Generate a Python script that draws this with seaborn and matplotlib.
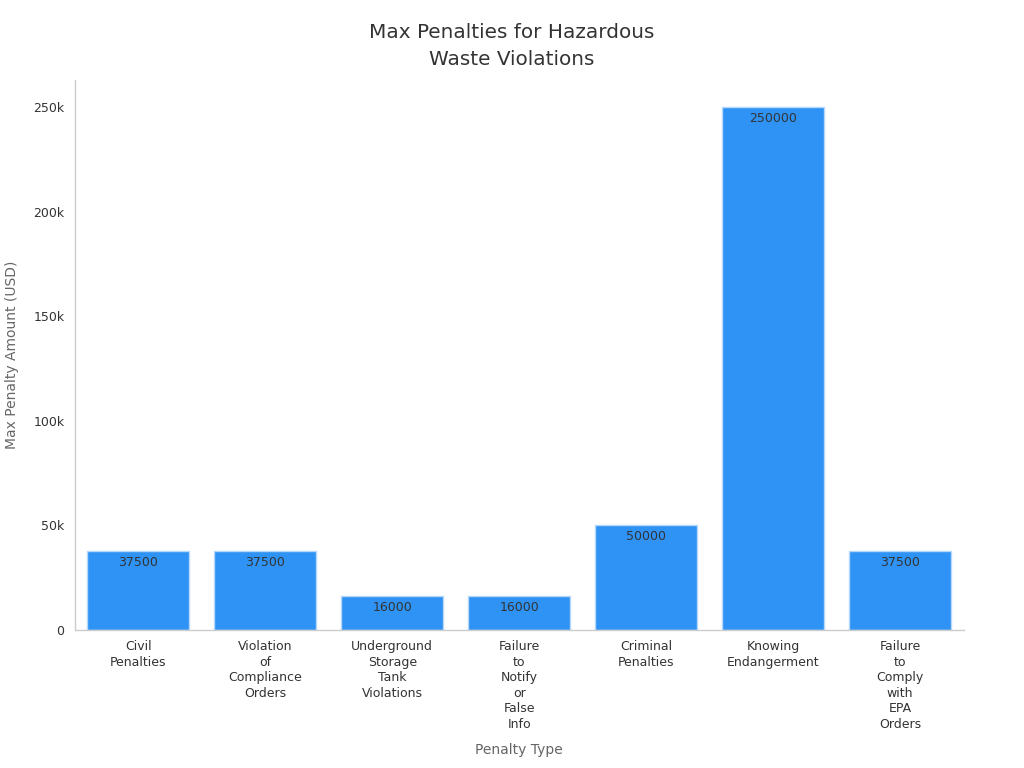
import pandas as pd
import matplotlib
matplotlib.use('Agg')
import matplotlib.pyplot as plt
import seaborn as sns
from matplotlib.ticker import FuncFormatter

categories = ['Civil\nPenalties', 'Violation\nof\nCompliance\nOrders',
              'Underground\nStorage\nTank\nViolations', 'Failure\nto\nNotify\nor\nFalse\nInfo',
              'Criminal\nPenalties', 'Knowing\nEndangerment',
              'Failure\nto\nComply\nwith\nEPA\nOrders']
penalties = [37500, 37500, 16000, 16000, 50000, 250000, 37500]

df = pd.DataFrame({'Penalty Type': categories, 'Max Penalty': penalties})

sns.set_style('white')
plt.rcParams['font.family'] = ['DejaVu Sans']

fig, ax = plt.subplots(figsize=(10.24, 7.68), dpi=100)
fig.subplots_adjust(left=0.073, right=0.941, top=0.896, bottom=0.18)

sns.barplot(data=df, x='Penalty Type', y='Max Penalty', color='#2E93F5',
            saturation=1, width=0.8, edgecolor='#b5d8fa', linewidth=1, ax=ax)

for i, v in enumerate(penalties):
    ax.text(i, v - 2200, str(v), ha='center', va='top', fontsize=9, color='#333333')

ax.set_xlim(-0.5, 6.5)
ax.set_ylim(0, 263000)
ax.yaxis.set_major_formatter(FuncFormatter(lambda x, p: '0' if x == 0 else f'{int(x/1000)}k'))
ax.set_yticks([0, 50000, 100000, 150000, 200000, 250000])

# title is centred on the figure, not the axes
ax.set_title('Max Penalties for Hazardous\nWaste Violations', fontsize=14.4,
             color='#333333', pad=11, linespacing=1.5, x=0.492)
ax.set_xlabel('Penalty Type', fontsize=10, color='#666666', labelpad=9)
ax.set_ylabel('Max Penalty Amount (USD)', fontsize=10, color='#666666', labelpad=10)

ax.tick_params(axis='both', labelsize=9, colors='#333333', length=4, width=1)
ax.tick_params(axis='both', color='#888888')
for lbl in ax.get_xticklabels():
    lbl.set_linespacing(1.25)
for s in ['top', 'right']:
    ax.spines[s].set_visible(False)
for s in ['left', 'bottom']:
    ax.spines[s].set_color('#cccccc')
    ax.spines[s].set_linewidth(1)

plt.savefig('out.png', dpi=100)
